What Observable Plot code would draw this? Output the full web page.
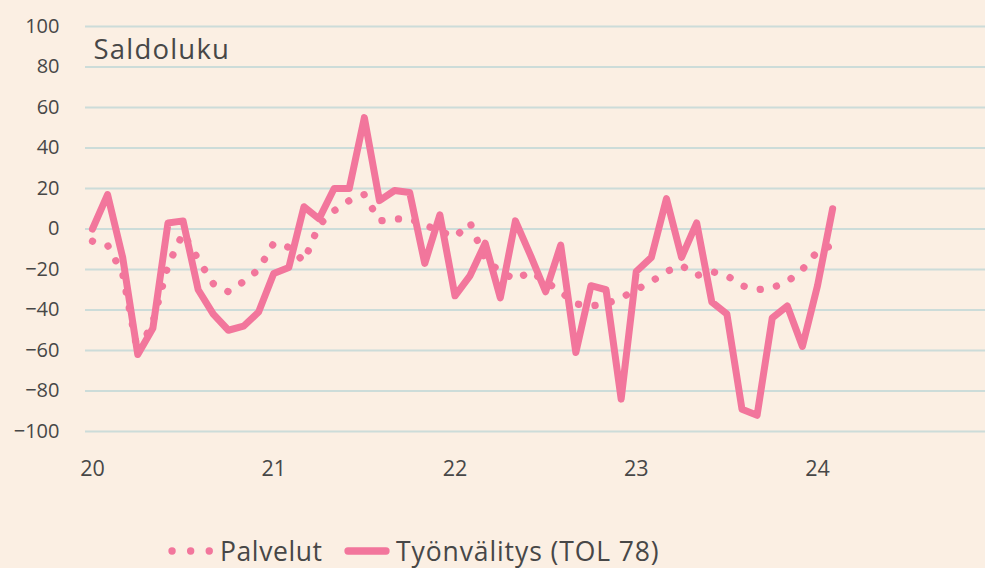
<!DOCTYPE html>
<html>
<head>
<meta charset="utf-8">
<script src="https://cdn.jsdelivr.net/npm/d3@7"></script>
<script src="https://cdn.jsdelivr.net/npm/@observablehq/plot@0.6"></script>
<style>
  html, body { margin: 0; padding: 0; background: #FBEFE3; }
  body { width: 985px; height: 568px; position: relative; overflow: hidden; font-family: "Open Sans", Lato, sans-serif; color: #474747; }
  #chart { position: absolute; left: 0; top: 0; }
  #legend { position: absolute; left: 0; top: 530px; }
  #legend svg { display: block; }
</style>
</head>
<body>
<div id="chart"></div>
<div id="legend"></div>
<script>
// Monthly values, Jan 2020 .. Feb 2024
const palvelut = [
  -6, -8, -22, -61, -46, -18, -2, -15, -27, -31, -26, -20,
  -7, -9, -16, 2, 9, 14, 17, 4, 5, 5, 2, -1,
  -4, 3, -15, -21, -25, -21, -26, -31, -37, -38, -37, -34,
  -30, -26, -21, -18, -23, -21, -23, -28, -30, -29, -26, -20,
  -11, -8
];
const tyonvalitys = [
  0, 17, -14, -62, -49, 3, 4, -30, -42, -50, -48, -41,
  -22, -19, 11, 5, 20, 20, 55, 14, 19, 18, -17, 7,
  -33, -23, -7, -34, 4, -13, -31, -8, -61, -28, -30, -84,
  -21, -14, 15, -14, 3, -36, -42, -89, -92, -44, -38, -58,
  -28, 10
];
const seriesNames = ["Palvelut", "Työnvälitys (TOL 78)"];
const yTicks = [-100, -80, -60, -40, -20, 0, 20, 40, 60, 80, 100];
const xTickMonths = [0, 12, 24, 36, 48];
const xTickLabels = ["20", "21", "22", "23", "24"];
const yLabel = "Saldoluku";

const pink = "#F2769C";
const grid = "#CCDCD9";
const ink = "#474747";
const font = "'Open Sans', Lato, sans-serif";

const dataP = palvelut.map((v, i) => ({t: i, v}));
const dataT = tyonvalitys.map((v, i) => ({t: i, v}));

const chart = Plot.plot({
  width: 985,
  height: 491,
  marginLeft: 85,
  marginRight: 0,
  marginTop: 26,
  marginBottom: 60,
  style: {background: "transparent", fontFamily: font, color: ink, fontSize: "20px", fontWeight: 400, overflow: "visible"},
  x: {domain: [-0.46, 59.12]},
  y: {domain: [-100, 100]},
  marks: [
    Plot.ruleY(yTicks, {stroke: grid, strokeWidth: 2.2}),
    Plot.axisY({ticks: yTicks, tickSize: 0, tickPadding: 26, fontSize: 20, fill: ink, label: null}),
    Plot.axisX({ticks: xTickMonths, tickFormat: (d) => xTickLabels[xTickMonths.indexOf(d)], tickSize: 0, tickPadding: 29, fontSize: 21.5, fill: ink, label: null}),
    Plot.line(dataP, {x: "t", y: "v", stroke: pink, strokeWidth: 7.3, strokeDasharray: "0.1 16.5", strokeLinecap: "round", strokeLinejoin: "round"}),
    Plot.line(dataT, {x: "t", y: "v", stroke: pink, strokeWidth: 7, strokeLinejoin: "round", strokeLinecap: "round"}),
    Plot.text([yLabel], {frameAnchor: "top-left", dx: 8, dy: 24, lineAnchor: "middle", textAnchor: "start", fontSize: 27.5, fill: ink, className: "ylab"})
  ]
});
d3.select(chart).selectAll(".ylab text").style("letter-spacing", "1.2px");
document.getElementById("chart").appendChild(chart);

// Legend (below the plot)
const lg = d3.select("#legend").append("svg").attr("width", 985).attr("height", 38)
  .style("font-family", font).style("font-weight", 400);
const cy = 21;
lg.append("line").attr("x1", 172).attr("x2", 211).attr("y1", cy).attr("y2", cy)
  .attr("stroke", pink).attr("stroke-width", 7.3).attr("stroke-linecap", "round").attr("stroke-dasharray", "0.1 18.5");
lg.append("text").attr("x", 220).attr("y", cy).attr("dy", "0.36em").attr("font-size", 26.5).attr("fill", ink)
  .style("letter-spacing", "0.6px").text(seriesNames[0]);
lg.append("line").attr("x1", 348).attr("x2", 386).attr("y1", cy).attr("y2", cy)
  .attr("stroke", pink).attr("stroke-width", 7.3).attr("stroke-linecap", "round");
lg.append("text").attr("x", 396).attr("y", cy).attr("dy", "0.36em").attr("font-size", 26.5).attr("fill", ink)
  .style("letter-spacing", "0.9px").text(seriesNames[1]);
</script>
</body>
</html>
